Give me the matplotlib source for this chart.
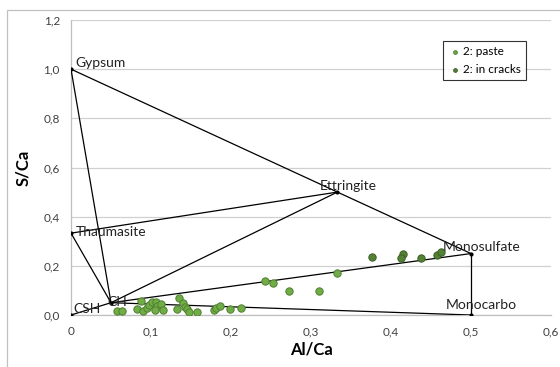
import matplotlib
matplotlib.use("Agg")
import matplotlib.pyplot as plt
from matplotlib.patches import Rectangle

plt.rcParams['font.family'] = ['Lato', 'DejaVu Sans']

# phase vertices
phases = ["Gypsum", "Ettringite", "Monosulfate", "Monocarbo", "Thaumasite", "CH", "CSH"]
phase_x = [0.0, 0.333, 0.5, 0.5, 0.0, 0.05, 0.0]
phase_y = [1.0, 0.5, 0.25, 0.0, 0.333, 0.05, 0.0]
# label anchor (left, vertical centre) in data units
label_x = [0.005, 0.311, 0.465, 0.469, 0.006, 0.046, 0.003]
label_y = [1.027, 0.525, 0.277, 0.040, 0.338, 0.053, 0.024]

# tie lines between phases
edges = [("Gypsum", "Ettringite"), ("Ettringite", "Monosulfate"), ("Monosulfate", "Monocarbo"),
         ("Gypsum", "CH"), ("Thaumasite", "Ettringite"), ("Thaumasite", "CH"),
         ("CH", "Ettringite"), ("CSH", "CH"), ("CH", "Monosulfate"), ("CH", "Monocarbo")]

# measured points
paste_x = [0.058, 0.064, 0.082, 0.087, 0.090, 0.095, 0.098, 0.101, 0.106, 0.107, 0.105, 0.113,
           0.115, 0.133, 0.135, 0.140, 0.1425, 0.1446, 0.148, 0.158, 0.179, 0.181, 0.186, 0.199,
           0.213, 0.2425, 0.253, 0.273, 0.3096, 0.332]
paste_y = [0.016, 0.016, 0.024, 0.057, 0.016, 0.027, 0.041, 0.052, 0.052, 0.038, 0.020, 0.0435,
           0.020, 0.024, 0.070, 0.048, 0.034, 0.024, 0.0135, 0.0135, 0.020, 0.030, 0.038, 0.024,
           0.030, 0.140, 0.129, 0.099, 0.0965, 0.170]
cracks_x = [0.376, 0.4146, 0.412, 0.437, 0.458, 0.4625]
cracks_y = [0.237, 0.247, 0.233, 0.231, 0.244, 0.255]

xticks = [0, 0.1, 0.2, 0.3, 0.4, 0.5, 0.6]
yticks = [0, 0.2, 0.4, 0.6, 0.8, 1.0, 1.2]

fig = plt.figure(figsize=(5.6, 3.67), dpi=100)
ax = fig.add_axes([71/560, 1-315/367, 480/560, 295/367])

grid_c = "#d0d0d0"
ax.set_xlim(0, 0.6)
ax.set_ylim(0, 1.2)
ax.set_yticks(yticks)
ax.set_xticks(xticks)
ax.set_xticklabels(["0" if v == 0 else f"{v:.1f}".replace(".", ",") for v in xticks], fontsize=8.5, color="#404040")
ax.set_yticklabels([f"{v:.1f}".replace(".", ",") for v in yticks], fontsize=8.5, color="#404040")
ax.tick_params(length=0, pad=8)
ax.yaxis.grid(True, color=grid_c, linewidth=0.9)
ax.set_axisbelow(True)
for s in ["top", "right"]:
    ax.spines[s].set_visible(False)
for s in ["left", "bottom"]:
    ax.spines[s].set_color("#bfbfbf")
    ax.spines[s].set_linewidth(0.9)

idx = {n: i for i, n in enumerate(phases)}
for a, b in edges:
    ia, ib = idx[a], idx[b]
    ax.plot([phase_x[ia], phase_x[ib]], [phase_y[ia], phase_y[ib]], color="black", lw=0.9, zorder=3)
ax.plot(phase_x, phase_y, "o", color="black", ms=2, ls="none", zorder=4)
for n, lx, ly in zip(phases, label_x, label_y):
    ax.text(lx, ly, n, fontsize=10, ha="left", va="center", color="#222222", zorder=6)

ax.scatter(paste_x, paste_y, s=28, color="#70ad47", edgecolor="#4e7f30", linewidth=0.7, zorder=5, label="2: paste")
ax.scatter(cracks_x, cracks_y, s=28, color="#548235", edgecolor="#3b5e25", linewidth=0.7, zorder=5, label="2: in cracks")

leg = ax.legend(loc="upper right", bbox_to_anchor=(526/560, 1-41/367), bbox_transform=fig.transFigure,
                fontsize=8.5, frameon=True, fancybox=False, edgecolor="black", handletextpad=0.1,
                markerscale=0.5, borderpad=0.45, labelspacing=0.55, handlelength=1.1, borderaxespad=0)
leg.get_frame().set_linewidth(0.8)

ax.set_xlabel("Al/Ca", fontsize=12, fontweight="bold", labelpad=3)
ax.set_ylabel("S/Ca", fontsize=12, fontweight="bold", labelpad=9)

fig.patches.append(Rectangle((7/560, -0.1), 1.2, 1 - 10/367 + 0.1, transform=fig.transFigure,
                             fill=False, edgecolor="#c0c0c0", lw=0.9))

fig.savefig("out.png", dpi=100)
